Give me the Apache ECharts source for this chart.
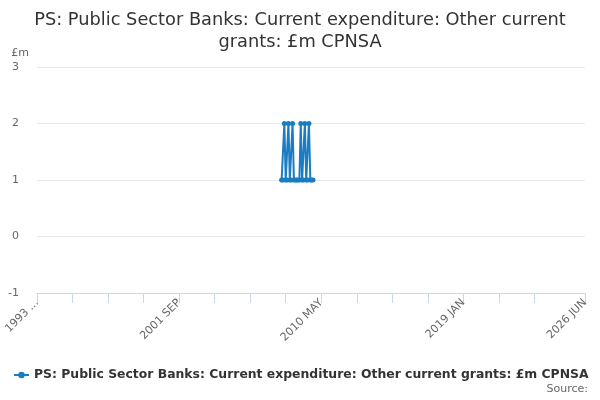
<!DOCTYPE html>
<html>
<head>
<meta charset="utf-8">
<script src="https://cdn.jsdelivr.net/npm/echarts@6/dist/echarts.min.js"></script>
<style>
html,body{margin:0;padding:0;background:#fff;}
#c{width:600px;height:400px;}
</style>
</head>
<body>
<div id="c"></div>
<script>
// Categories: monthly, 1993 JAN .. 2026 JUN
var monthNames = ['JAN','FEB','MAR','APR','MAY','JUN','JUL','AUG','SEP','OCT','NOV','DEC'];
var startYear = 1993, endYear = 2026, endMonth = 6;
var categories = [];
for (var y = startYear; y <= endYear; y++) {
  for (var m = 0; m < 12; m++) {
    if (y === endYear && m >= endMonth) break;
    categories.push(y + ' ' + monthNames[m]);
  }
}
// Observed values (£m), Dec 2007 .. Nov 2009
var valueMonths = ['2007 DEC','2008 JAN','2008 FEB','2008 MAR','2008 APR','2008 MAY','2008 JUN','2008 JUL','2008 AUG','2008 SEP','2008 OCT','2008 NOV','2008 DEC',
  '2009 JAN','2009 FEB','2009 MAR','2009 APR','2009 MAY','2009 JUN','2009 JUL','2009 AUG','2009 SEP','2009 OCT','2009 NOV'];
var values = [1,1,2,1,1,2,1,1,2,1,1,1,1,
  1,2,1,1,2,1,1,2,1,1,1];
var yTicks = [-1, 0, 1, 2, 3];
var seriesName = 'PS: Public Sector Banks: Current expenditure: Other current grants: £m CPNSA';
var titleText = 'PS: Public Sector Banks: Current expenditure: Other current\ngrants: £m CPNSA';

var seriesData = categories.map(function (c) {
  var i = valueMonths.indexOf(c);
  return i >= 0 ? values[i] : null;
});
var lastIdx = categories.length - 1;

var chart = echarts.init(document.getElementById('c'), null, {renderer: 'canvas'});
chart.setOption({
  animation: false,
  textStyle: {fontFamily: 'DejaVu Sans'},
  title: {
    text: titleText,
    left: 'center',
    top: 4,
    textStyle: {fontFamily: 'DejaVu Sans', fontSize: 17.8, fontWeight: 'normal', color: '#333', lineHeight: 22}
  },
  grid: {left: 37, right: 15, top: 67, bottom: 107, containLabel: false},
  legend: {
    show: true,
    left: 8,
    top: 364,
    itemWidth: 15,
    itemHeight: 8,
    itemGap: 5,
    textStyle: {fontFamily: 'DejaVu Sans', fontSize: 12.4, fontWeight: 'bold', color: '#333'},
    data: [seriesName]
  },
  graphic: [{
    type: 'text',
    right: 12,
    top: 384,
    style: {text: 'Source:', fontFamily: 'DejaVu Sans', fontSize: 11, fill: '#666'}
  }],
  xAxis: {
    type: 'category',
    data: categories,
    boundaryGap: false,
    axisLine: {onZero: false, lineStyle: {color: '#ccd6eb'}},
    axisTick: {
      show: true,
      interval: function (i) { return (i % 26 === 0 && i <= lastIdx - 26) || i === lastIdx; },
      length: 10,
      lineStyle: {color: '#ccd6eb'}
    },
    axisLabel: {
      interval: function (i) { return i % 104 === 0 || i === lastIdx; },
      rotate: 45,
      color: '#666',
      fontSize: 11,
      fontFamily: 'DejaVu Sans',
      margin: 8,
      formatter: function (v, i) { return i === 0 ? v.slice(0, 4) + ' ...' : v; }
    },
    splitLine: {show: false}
  },
  yAxis: {
    type: 'value',
    name: '£m',
    nameLocation: 'end',
    nameGap: 8,
    nameTextStyle: {color: '#666', fontSize: 11, align: 'right', padding: [0, 8, 0, 0]},
    min: yTicks[0],
    max: yTicks[yTicks.length - 1],
    interval: 1,
    axisLine: {show: false},
    axisTick: {show: false},
    axisLabel: {color: '#666', fontSize: 11, margin: 18},
    splitLine: {lineStyle: {color: '#e6e6e6'}}
  },
  series: [{
    name: seriesName,
    type: 'line',
    data: seriesData,
    connectNulls: false,
    symbol: 'circle',
    symbolSize: 5,
    showSymbol: true,
    showAllSymbol: true,
    itemStyle: {color: '#1a7cc2'},
    lineStyle: {width: 2, color: '#1a7cc2'}
  }]
});
</script>
</body>
</html>
